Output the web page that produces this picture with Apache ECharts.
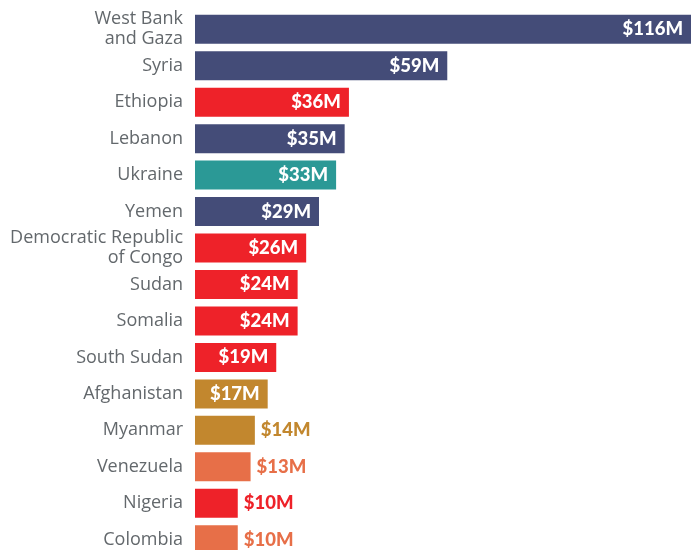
<!DOCTYPE html>
<html>
  <head>
    <meta charset="utf-8" />
    <title>Funding by country</title>
    <script src="https://cdn.jsdelivr.net/npm/echarts@6/dist/echarts.min.js"></script>
    <style type="text/css">
      html, body { margin: 0; padding: 0; background: #fff; }
    </style>
  </head>
  <body>
    <div id="main" style="width: 691px; height: 550px"></div>
    <script type="text/javascript">
      // data (US$ millions)
      var countries = [
        "West Bank\nand Gaza", "Syria", "Ethiopia", "Lebanon", "Ukraine", "Yemen",
        "Democratic Republic\nof Congo", "Sudan", "Somalia", "South Sudan",
        "Afghanistan", "Myanmar", "Venezuela", "Nigeria", "Colombia"
      ];
      var amounts = [116, 59, 36, 35, 33, 29, 26, 24, 24, 19, 17, 14, 13, 10, 10];
      var regions = [
        "mena", "mena", "africa", "mena", "europe", "mena",
        "africa", "africa", "africa", "africa",
        "asia", "asia", "americas", "africa", "americas"
      ];

      var regionColor = {
        mena: "#444C78",
        africa: "#EE2229",
        europe: "#2B9996",
        asia: "#C2872E",
        americas: "#E76F48"
      };

      var myChart = echarts.init(document.getElementById("main"));

      var barData = amounts.map(function (v, i) {
        var c = regionColor[regions[i]];
        var outside = v < 15;
        return {
          value: v,
          itemStyle: { color: c },
          label: outside
            ? { position: "right", distance: 6, color: c }
            : { position: "insideRight", distance: 8, color: "#fff" }
        };
      });

      var option = {
        animation: false,
        grid: { left: 195, right: 0, top: 11, height: 547, outerBoundsMode: "none" },
        xAxis: { type: "value", min: 0, max: 116, show: false },
        yAxis: {
          type: "category",
          data: countries,
          inverse: true,
          axisLine: { show: false },
          axisTick: { show: false },
          axisLabel: {
            margin: 12,
            color: "#63686C",
            fontSize: 18,
            fontFamily: "Open Sans",
            lineHeight: 20
          }
        },
        series: [
          {
            type: "bar",
            data: barData,
            barWidth: 29,
            label: {
              show: true,
              fontFamily: "Lato",
              fontWeight: 900,
              fontSize: 18.5,
              formatter: function (p) { return "$" + p.value + "M"; }
            }
          }
        ]
      };

      myChart.setOption(option);
    </script>
  </body>
</html>
